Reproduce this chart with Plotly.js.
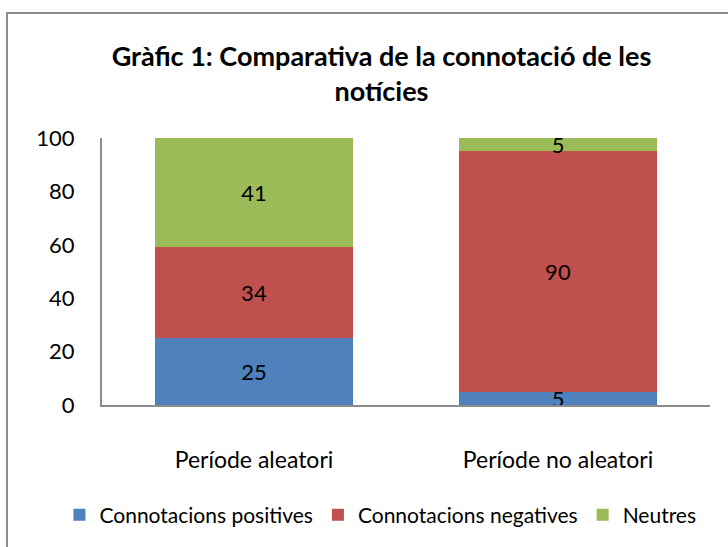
<!DOCTYPE html>
<html>
<head>
<meta charset="utf-8">
<script src="https://cdn.plot.ly/plotly-3.0.1.min.js"></script>
<style>
html,body{margin:0;padding:0;background:#fff;}
#wrap{position:relative;width:728px;height:547px;overflow:hidden;}
#chart{position:absolute;left:0;top:0;width:728px;height:547px;}
#frame{position:absolute;left:6px;top:12px;width:740px;height:560px;border:2px solid #8c8c8c;box-sizing:border-box;pointer-events:none;}
</style>
</head>
<body>
<div id="wrap"><div id="chart"></div><div id="frame"></div></div>
<script>
const categories = ["Període aleatori", "Període no aleatori"];
const positives = [25, 5];
const negatives = [34, 90];
const neutres = [41, 5];
const seriesNames = ["Connotacions positives", "Connotacions negatives", "Neutres"];
const yTicks = [0, 20, 40, 60, 80, 100];

const FONT = "Lato, 'Open Sans', sans-serif";
const colors = ["#4F81BD", "#C0504D", "#9BBB59"];
const series = [positives, negatives, neutres];

const traces = series.map((vals, i) => ({
  type: "bar",
  name: seriesNames[i],
  x: categories,
  y: vals,
  text: vals.map(String),
  textposition: "inside",
  insidetextanchor: "middle",
  textangle: 0,
  constraintext: "none",
  textfont: {family: FONT, size: 22, color: "#000"},
  marker: {color: colors[i], line: {width: 0}},
  hoverinfo: "none"
}));

const layout = {
  width: 728, height: 547,
  barmode: "stack",
  bargap: 0.35,
  paper_bgcolor: "#fff",
  plot_bgcolor: "#fff",
  margin: {l: 102, r: 18, t: 138, b: 142, autoexpand: false},
  font: {family: FONT, size: 22, color: "#000"},
  title: {
    text: "<b>Gràfic 1: Comparativa de la connotació de les<br>notícies</b>",
    font: {family: FONT, size: 27, color: "#000"},
    x: 0.524, xanchor: "center",
    y: 0.88, yanchor: "middle"
  },
  xaxis: {
    showline: true, linecolor: "#8c8c8c", linewidth: 2,
    ticks: "", showgrid: false, zeroline: false,
    tickfont: {family: FONT, size: 23, color: "#000"},
    ticklabelstandoff: 33
  },
  yaxis: {
    range: [0, 100],
    tickvals: yTicks,
    showline: true, linecolor: "#8c8c8c", linewidth: 2,
    ticks: "", showgrid: false, zeroline: false,
    tickfont: {family: FONT, size: 22, color: "#000"},
    ticklabelstandoff: 21
  },
  legend: {
    orientation: "h",
    xref: "paper", yref: "paper",
    x: -0.07, xanchor: "left",
    y: -0.412, yanchor: "middle",
    font: {family: FONT, size: 21, color: "#000"},
    itemwidth: 30,
    traceorder: "normal"
  },
  showlegend: true
};

Plotly.newPlot("chart", traces, layout, {staticPlot: true});
</script>
</body>
</html>
